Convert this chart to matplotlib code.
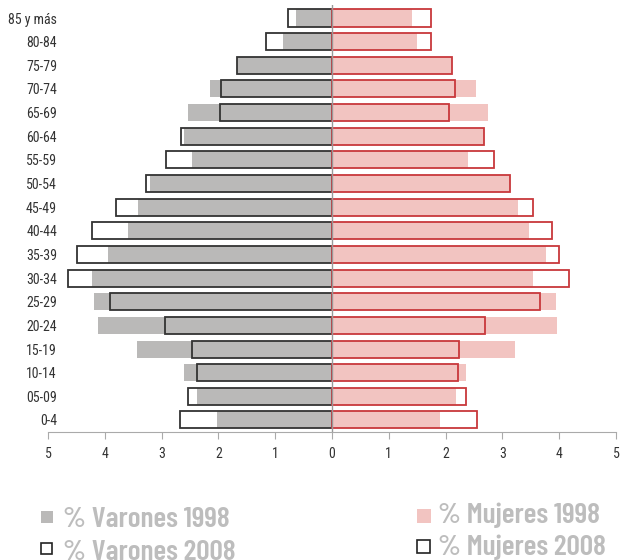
import matplotlib.pyplot as plt
from matplotlib.patches import Rectangle

# Population pyramid data (% of total), youngest group first
groups = ['0-4', '05-09', '10-14', '15-19', '20-24', '25-29', '30-34', '35-39',
          '40-44', '45-49', '50-54', '55-59', '60-64', '65-69', '70-74', '75-79',
          '80-84', '85 y más']
men_1998 = [2.02, 2.38, 2.61, 3.44, 4.12, 4.19, 4.22, 3.95, 3.60, 3.42, 3.21,
            2.46, 2.61, 2.54, 2.14, 1.68, 0.86, 0.63]
men_2008 = [2.67, 2.53, 2.37, 2.47, 2.94, 3.90, 4.64, 4.49, 4.22, 3.80, 3.27,
            2.92, 2.65, 1.98, 1.95, 1.67, 1.16, 0.77]
women_1998 = [1.90, 2.19, 2.36, 3.23, 3.96, 3.94, 3.53, 3.77, 3.47, 3.27, 3.13,
              2.40, 2.67, 2.75, 2.53, 2.12, 1.50, 1.41]
women_2008 = [2.55, 2.36, 2.21, 2.24, 2.69, 3.66, 4.18, 3.99, 3.88, 3.53, 3.14,
              2.86, 2.67, 2.06, 2.17, 2.11, 1.74, 1.74]
xticks = [-5, -4, -3, -2, -1, 0, 1, 2, 3, 4, 5]

plt.rcParams['font.family'] = ['Roboto Condensed', 'DejaVu Sans']
legend_font = ['Barlow Condensed', 'Roboto Condensed', 'DejaVu Sans']

gray = '#bab9b8'
pink = '#f2c4c1'
red = '#c8383c'

fig = plt.figure(figsize=(6.22, 5.6), dpi=100)
ax = fig.add_axes([48 / 622, 1 - 432 / 560, 568 / 622, 427 / 560])

y = list(range(len(groups)))
h = 0.72
ax.barh(y, [-v for v in men_1998], height=h, color=gray, zorder=2)
ax.barh(y, women_1998, height=h, color=pink, zorder=2)
ax.barh(y, [-v for v in men_2008], height=h, facecolor='none',
        edgecolor='#333333', linewidth=1.3, zorder=3)
ax.barh(y, women_2008, height=h, facecolor='none',
        edgecolor=red, linewidth=1.3, zorder=3)
ax.axvline(0, color='#999999', linewidth=1, zorder=4)

ax.set_xlim(-5, 5)
ax.set_ylim(-0.51, 17.55)
ax.set_xticks(xticks)
ax.set_xticklabels([str(abs(t)) for t in xticks])
ax.set_yticks(y)
ax.set_yticklabels(groups)

for s in ['top', 'right', 'left']:
    ax.spines[s].set_visible(False)
ax.spines['bottom'].set_color('#aaaaaa')
ax.tick_params(axis='x', length=5, color='#aaaaaa', labelsize=10,
               labelcolor='#333333', pad=6)
ax.tick_params(axis='y', length=0, labelsize=10, labelcolor='#333333', pad=-6.5)

# legend at the bottom: (square x, square top, square size, text x, baseline)
legend_color = '#bdbdbd'
items = [
    (41, 511, 12, 63, 527, gray, 'none', '% Varones 1998'),
    (41, 543, 11, 63, 560, 'white', '#222222', '% Varones 2008'),
    (417, 509, 14, 438, 523, pink, 'none', '% Mujeres 1998'),
    (417, 540, 13, 438, 555, 'white', '#222222', '% Mujeres 2008'),
]
for sx, sy, sq, tx, ty, fc, ec, label in items:
    fig.patches.append(Rectangle((sx / 622, 1 - (sy + sq) / 560), sq / 622, sq / 560,
                                 transform=fig.transFigure, facecolor=fc,
                                 edgecolor=ec, linewidth=1.2))
    fig.text(tx / 622, 1 - ty / 560, label, fontsize=21.3, fontweight=600,
             color=legend_color, va='baseline', ha='left', family=legend_font)

fig.savefig('out.png', dpi=100)
